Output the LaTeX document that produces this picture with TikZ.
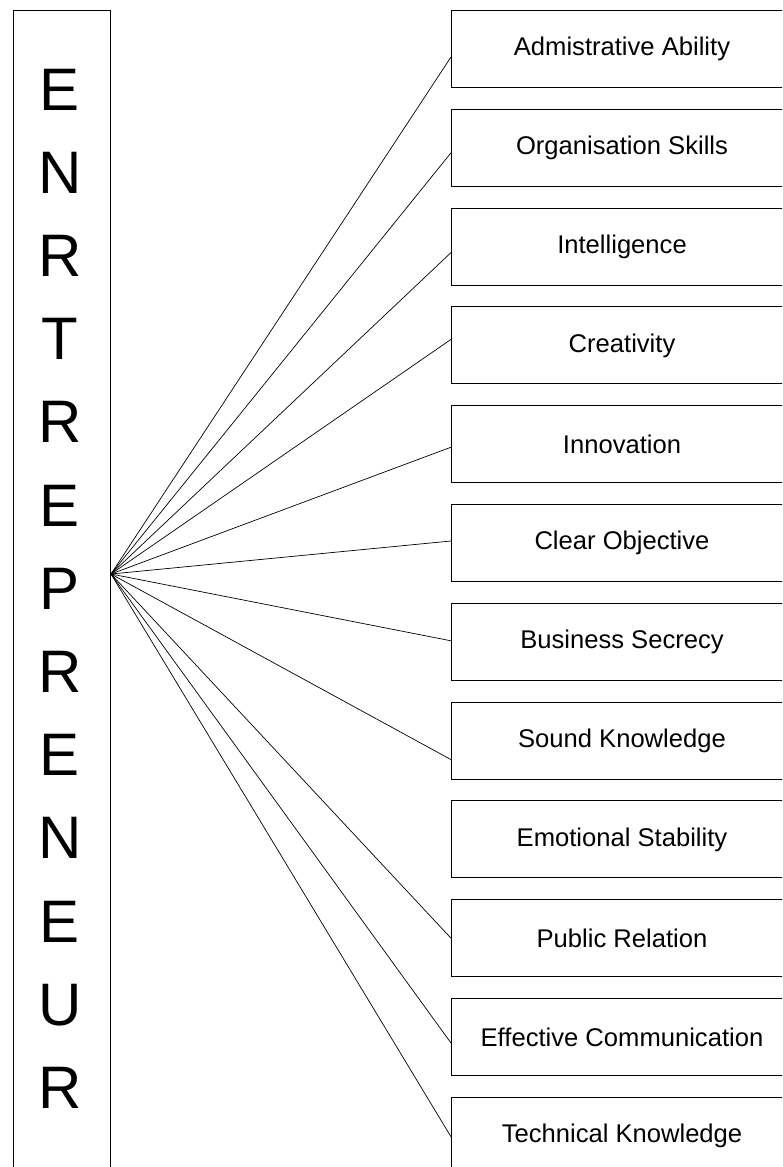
\documentclass[tikz,border=0pt]{standalone}
\usepackage{fontspec}
\setmainfont{Liberation Sans}
\begin{document}
\begin{tikzpicture}[x=1pt,y=1pt,
  trait/.style={draw=black,line width=1pt,rectangle,anchor=north west,
    minimum width=341pt,minimum height=77pt,inner sep=0pt,
    font=\fontsize{25.6}{30}\selectfont},
  mainbox/.style={draw=black,line width=1pt,rectangle,anchor=north west,
    minimum width=97pt,minimum height=1180pt,inner sep=0pt},
  letter/.style={anchor=base,inner sep=0pt,font=\fontsize{60}{70}\selectfont},
  link/.style={draw=black,line width=0.7pt}]
\useasboundingbox (0,0) rectangle (782,-1167);
\clip (0,0) rectangle (782,-1167);
\fill[white] (0,0) rectangle (782,-1167);
% main box
\node[mainbox] (ent) at (13,-10) {};
\foreach \ch [count=\k from 0] in {E,N,R,T,R,E,P,R,E,N,E,U,R}{
  \node[letter] (l\k) at (60,{-110-83.2*\k}) {\ch};
}
\coordinate (hub) at ([yshift=-564pt]ent.north east);
% trait boxes
\node[trait] (b1)  at (451,-10)    {Admistrative Ability};
\node[trait] (b2)  at (451,-108.8) {Organisation Skills};
\node[trait] (b3)  at (451,-207.6) {Intelligence};
\node[trait] (b4)  at (451,-306.4) {Creativity};
\node[trait] (b5)  at (451,-405.2) {Innovation};
\node[trait] (b6)  at (451,-504)   {Clear Objective};
\node[trait] (b7)  at (451,-602.8) {Business Secrecy};
\node[trait] (b8)  at (451,-701.6) {Sound Knowledge};
\node[trait] (b9)  at (451,-800.4) {Emotional Stability};
\node[trait] (b10) at (451,-899.2) {Public Relation};
\node[trait] (b11) at (451,-998)   {Effective Communication};
\node[trait] (b12) at (451,-1096.8){Technical Knowledge};
% connectors
\draw[link] (hub) -- ([yshift=-47pt]b1.north west);
\draw[link] (hub) -- ([yshift=-44pt]b2.north west);
\draw[link] (hub) -- ([yshift=-45pt]b3.north west);
\draw[link] (hub) -- ([yshift=-33pt]b4.north west);
\draw[link] (hub) -- ([yshift=-42pt]b5.north west);
\draw[link] (hub) -- ([yshift=-37pt]b6.north west);
\draw[link] (hub) -- ([yshift=-38pt]b7.north west);
\draw[link] (hub) -- ([yshift=-58pt]b8.north west);
\draw[link] (hub) -- ([yshift=-39pt]b10.north west);
\draw[link] (hub) -- ([yshift=-45pt]b11.north west);
\draw[link] (hub) -- ([yshift=-40pt]b12.north west);
\end{tikzpicture}
\end{document}
